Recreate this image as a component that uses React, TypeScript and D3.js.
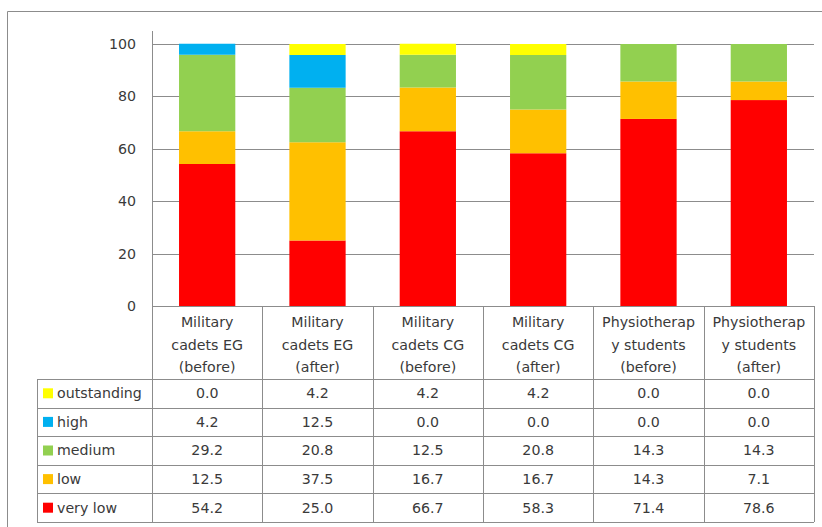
import React from "react";
import * as d3 from "d3";

const categories = [
  ["Military", "cadets EG", "(before)"],
  ["Military", "cadets EG", "(after)"],
  ["Military", "cadets CG", "(before)"],
  ["Military", "cadets CG", "(after)"],
  ["Physiotherap", "y students", "(before)"],
  ["Physiotherap", "y students", "(after)"],
];

const seriesNames = ["outstanding", "high", "medium", "low", "very low"];
const seriesColors = ["#FFFF00", "#00B0F0", "#92D050", "#FFC000", "#FF0000"];

const outstanding = [0.0, 4.2, 4.2, 4.2, 0.0, 0.0];
const high = [4.2, 12.5, 0.0, 0.0, 0.0, 0.0];
const medium = [29.2, 20.8, 12.5, 20.8, 14.3, 14.3];
const low = [12.5, 37.5, 16.7, 16.7, 14.3, 7.1];
const veryLow = [54.2, 25.0, 66.7, 58.3, 71.4, 78.6];

const yTicks = [0, 20, 40, 60, 80, 100];

export default function App() {
  const W = 822;
  const H = 527;
  const plotLeft = 152;
  const plotRight = 814;
  const plotTop = 31;
  const yTop = 44;
  const yBottom = 306;
  const headerBottom = 379;
  const tableBottom = 522;
  const legendLeft = 37;
  const font = "DejaVu Sans, Verdana, sans-serif";
  const fs = 14.2;
  const textColor = "#3a3a3a";
  const lineColor = "#8c8c8c";

  const rows = [outstanding, high, medium, low, veryLow];
  const idx = categories.map((_, i) => i);

  const x = d3
    .scaleBand<number>()
    .domain(idx)
    .range([plotLeft, plotRight])
    .paddingInner(0)
    .paddingOuter(0);
  const y = d3.scaleLinear().domain([0, 100]).range([yBottom, yTop]);

  // stack from bottom: very low, low, medium, high, outstanding
  const stackKeys = ["veryLow", "low", "medium", "high", "outstanding"];
  const stackData = idx.map((i) => ({
    veryLow: veryLow[i],
    low: low[i],
    medium: medium[i],
    high: high[i],
    outstanding: outstanding[i],
  }));
  const stacked = d3.stack<any>().keys(stackKeys)(stackData);
  const colorByKey: Record<string, string> = {
    veryLow: seriesColors[4],
    low: seriesColors[3],
    medium: seriesColors[2],
    high: seriesColors[1],
    outstanding: seriesColors[0],
  };

  const bw = x.bandwidth();
  const barW = bw * 0.51;
  const rowH = (tableBottom - headerBottom) / rows.length;

  return (
    <div style={{ margin: 0 }}>
      <svg
        width={W}
        height={H}
        style={{ position: "absolute", left: 0, top: 0, background: "#fff" }}
      >
        <rect x={0} y={0} width={W} height={H} fill="#fff" />
        {/* chart frame */}
        <line x1={7.5} y1={11.5} x2={W} y2={11.5} stroke={lineColor} strokeWidth={1} />
        <line x1={7.5} y1={11.5} x2={7.5} y2={H} stroke={lineColor} strokeWidth={1} />

        {/* gridlines */}
        {yTicks.map((t) => (
          <line
            key={t}
            x1={plotLeft}
            x2={plotRight}
            y1={Math.round(y(t)) + 0.5}
            y2={Math.round(y(t)) + 0.5}
            stroke={lineColor}
            strokeWidth={1}
          />
        ))}
        {/* y tick labels */}
        {yTicks.map((t) => (
          <text
            key={"t" + t}
            x={136}
            y={y(t)}
            dy="0.35em"
            textAnchor="end"
            fontFamily={font}
            fontSize={fs}
            fill={textColor}
          >
            {t}
          </text>
        ))}

        {/* bars */}
        {stacked.map((s) => (
          <g key={s.key} fill={colorByKey[s.key]}>
            {s.map((d, i) =>
              d[1] - d[0] > 0 ? (
                <rect
                  key={i}
                  x={(x(i) as number) + (bw - barW) / 2}
                  width={barW}
                  y={y(d[1])}
                  height={y(d[0]) - y(d[1])}
                />
              ) : null
            )}
          </g>
        ))}

        {/* vertical axis */}
        <line x1={plotLeft + 0.5} x2={plotLeft + 0.5} y1={plotTop} y2={tableBottom} stroke={lineColor} />

        {/* data table: column lines */}
        {idx.map((i) => (
          <line
            key={"c" + i}
            x1={Math.round((x(i) as number) + bw) + 0.5}
            x2={Math.round((x(i) as number) + bw) + 0.5}
            y1={yBottom}
            y2={tableBottom}
            stroke={lineColor}
          />
        ))}
        {/* data table: row lines */}
        {d3.range(rows.length + 1).map((r) => {
          const yy = Math.round(headerBottom + r * rowH) + 0.5;
          return (
            <line key={"r" + r} x1={legendLeft} x2={plotRight} y1={yy} y2={yy} stroke={lineColor} />
          );
        })}
        <line x1={legendLeft + 0.5} x2={legendLeft + 0.5} y1={headerBottom} y2={tableBottom} stroke={lineColor} />

        {/* category headers */}
        {categories.map((lines, i) => (
          <text
            key={"h" + i}
            x={(x(i) as number) + bw / 2}
            textAnchor="middle"
            fontFamily={font}
            fontSize={fs}
            fill={textColor}
          >
            {lines.map((ln, k) => (
              <tspan key={k} x={(x(i) as number) + bw / 2} y={327 + k * 22.5}>
                {ln}
              </tspan>
            ))}
          </text>
        ))}

        {/* table rows */}
        {rows.map((vals, r) => {
          const cy = headerBottom + r * rowH + rowH / 2;
          return (
            <g key={"row" + r}>
              <rect x={43} y={cy - 5} width={10} height={10} fill={seriesColors[r]} />
              <text x={57} y={cy} dy="0.35em" fontFamily={font} fontSize={fs} fill={textColor}>
                {seriesNames[r]}
              </text>
              {vals.map((v, i) => (
                <text
                  key={i}
                  x={(x(i) as number) + bw / 2}
                  y={cy}
                  dy="0.35em"
                  textAnchor="middle"
                  fontFamily={font}
                  fontSize={fs}
                  fill={textColor}
                >
                  {v.toFixed(1)}
                </text>
              ))}
            </g>
          );
        })}
      </svg>
    </div>
  );
}
